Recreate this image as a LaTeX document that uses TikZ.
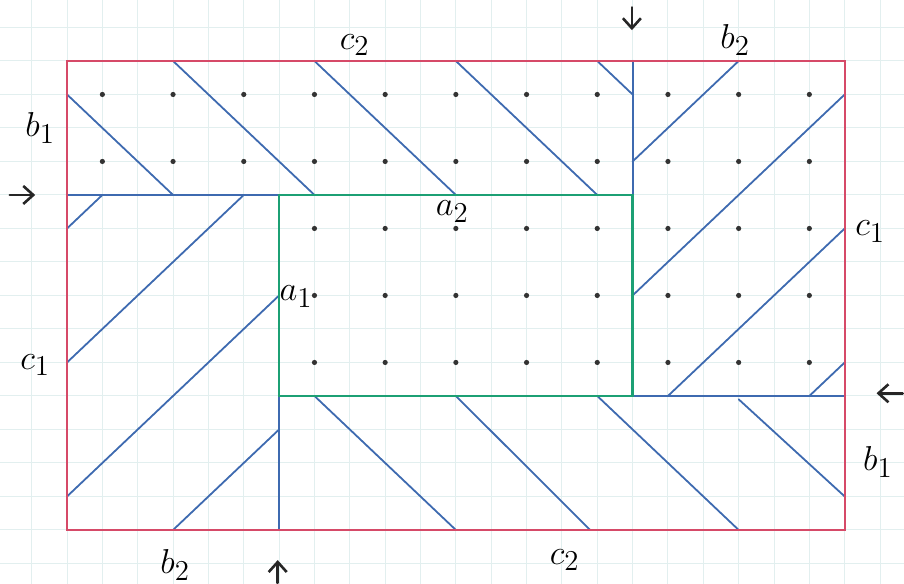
\documentclass[tikz,border=0pt]{standalone}
\usetikzlibrary{arrows.meta}
\definecolor{paper}{RGB}{226,239,239}
\definecolor{redline}{RGB}{214,74,104}
\definecolor{blueline}{RGB}{62,106,176}
\definecolor{greenline}{RGB}{28,160,116}
\begin{document}
\begin{tikzpicture}[x=35.35pt,y=33.5pt,
  gridpaper/.style={draw=paper,line width=0.5pt},
  outer/.style={draw=redline,line width=0.9pt},
  inner/.style={draw=greenline,line width=1.3pt},
  cut/.style={draw=blueline,line width=1.1pt,line cap=round},
  hatch/.style={draw=blueline,line width=0.9pt,line cap=round},
  gdot/.style={fill=black!80,draw=none},
  lbl/.style={font=\fontsize{19}{22}\selectfont,inner sep=0pt},
  cutarrow/.style={draw=black!85,line width=1.3pt,line cap=round,-{Straight Barb[length=5pt,width=9pt]}}]
\useasboundingbox (-0.948,-0.806) rectangle (11.839,7.910);
% graph paper
\foreach \i in {-1,...,23} \draw[gridpaper] (\i*0.5,-0.806) -- (\i*0.5,7.910);
\foreach \j in {-1,...,15} \draw[gridpaper] (-0.948,\j*0.5) -- (11.839,\j*0.5);
% dots
\foreach \y in {0.5,1.5} \foreach \x in {0.5,1.5,...,10.5} \fill[gdot] (\x,\y+5) circle (1.3pt);
\foreach \y in {2.5,3.5,4.5} \foreach \x in {3.5,4.5,...,10.5} \fill[gdot] (\x,\y) circle (1.3pt);
% hatching, top band
\draw[hatch] (0,6.5) -- (1.5,5);
\draw[hatch] (1.5,7) -- (3.5,5);
\draw[hatch] (3.5,7) -- (5.5,5);
\draw[hatch] (5.5,7) -- (7.5,5);
\draw[hatch] (7.5,7) -- (8,6.5);
% hatching, right region
\draw[hatch] (8,5.5) -- (9.5,7);
\draw[hatch] (8,3.5) -- (11,6.5);
\draw[hatch] (8.5,2) -- (11,4.5);
\draw[hatch] (10.5,2) -- (11,2.5);
% hatching, left region
\draw[hatch] (0,4.5) -- (0.5,5);
\draw[hatch] (0,2.5) -- (2.5,5);
\draw[hatch] (0,0.5) -- (3,3.5);
\draw[hatch] (1.5,0) -- (3,1.5);
% hatching, bottom band
\draw[hatch] (3.5,2) -- (5.5,0);
\draw[hatch] (5.5,2) -- (7.4,0);
\draw[hatch] (7.5,2) -- (9.5,0);
\draw[hatch] (9.5,1.95) -- (11,0.5);
% cuts
\draw[cut] (0,5) -- (3,5);
\draw[cut] (8,2) -- (11,2);
\draw[cut] (8,5) -- (8,7);
\draw[cut] (3,0) -- (3,2);
% rectangles
\draw[inner] (3,2) rectangle (8,5);
\draw[outer] (0,0) rectangle (11,7);
% labels
\node[lbl] (c2t) at (4.07,7.24) {$c_2$};
\node[lbl] (b2t) at (9.45,7.31) {$b_2$};
\node[lbl] (b1l) at (-0.38,6.0) {$b_1$};
\node[lbl] (c1l) at (-0.45,2.46) {$c_1$};
\node[lbl] (a2) at (5.45,4.75) {$a_2$};
\node[lbl] (a1) at (3.24,3.48) {$a_1$};
\node[lbl] (c1r) at (11.36,4.45) {$c_1$};
\node[lbl] (b1r) at (11.47,1.01) {$b_1$};
\node[lbl] (b2b) at (1.53,-0.52) {$b_2$};
\node[lbl] (c2b) at (7.04,-0.45) {$c_2$};
% arrows marking the cuts
\coordinate (r0) at (-0.81,5.0); \coordinate (r1) at (-0.45,5.0);
\coordinate (d0) at (7.99,7.80); \coordinate (d1) at (7.99,7.46);
\coordinate (l0) at (11.82,2.04); \coordinate (l1) at (11.45,2.04);
\coordinate (u0) at (2.98,-0.79); \coordinate (u1) at (2.98,-0.45);
\draw[cutarrow] (r0) -- (r1);
\draw[cutarrow] (d0) -- (d1);
\draw[cutarrow] (l0) -- (l1);
\draw[cutarrow] (u0) -- (u1);
\end{tikzpicture}
\end{document}
